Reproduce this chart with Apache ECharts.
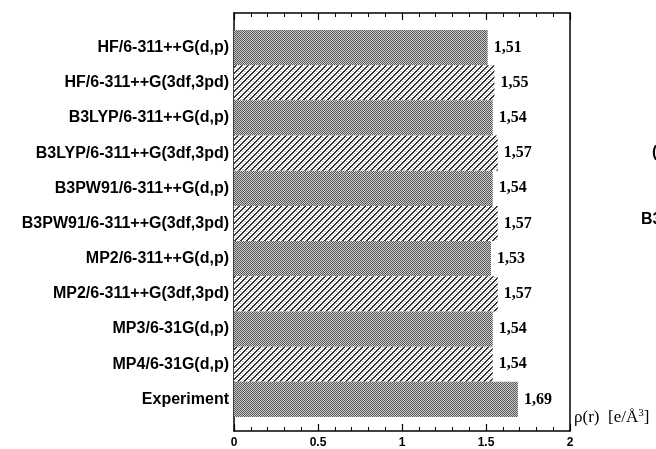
<!DOCTYPE html>
<html>
<head>
<meta charset="utf-8">
<script src="https://cdn.jsdelivr.net/npm/echarts@6/dist/echarts.min.js"></script>
<style>
html,body{margin:0;padding:0;background:#fff;}
#c{width:656px;height:449px;}
</style>
</head>
<body>
<div id="c"></div>
<script>
const categories = [
  'HF/6-311++G(d,p)',
  'HF/6-311++G(3df,3pd)',
  'B3LYP/6-311++G(d,p)',
  'B3LYP/6-311++G(3df,3pd)',
  'B3PW91/6-311++G(d,p)',
  'B3PW91/6-311++G(3df,3pd)',
  'MP2/6-311++G(d,p)',
  'MP2/6-311++G(3df,3pd)',
  'MP3/6-31G(d,p)',
  'MP4/6-31G(d,p)',
  'Experiment'
];
const values = [1.51, 1.55, 1.54, 1.57, 1.54, 1.57, 1.53, 1.57, 1.54, 1.54, 1.69];
const xTicks = [0, 0.5, 1, 1.5, 2];

function makeChecker() {
  const n = 4;
  const c = document.createElement('canvas');
  c.width = n; c.height = n;
  const ctx = c.getContext('2d');
  const img = ctx.createImageData(n, n);
  for (let y = 0; y < n; y++) for (let x = 0; x < n; x++) {
    const i = (y * n + x) * 4;
    const dark = (x + y) % 2 === 0;
    const v = dark ? 85 : 205;
    img.data[i] = img.data[i+1] = img.data[i+2] = v; img.data[i+3] = 255;
  }
  ctx.putImageData(img, 0, 0);
  return c;
}
function makeHatch() {
  const n = 6;
  const c = document.createElement('canvas');
  c.width = n * 2; c.height = n * 2;
  const ctx = c.getContext('2d');
  const img = ctx.createImageData(n * 2, n * 2);
  for (let y = 0; y < n * 2; y++) for (let x = 0; x < n * 2; x++) {
    const i = (y * n * 2 + x) * 4;
    const k = (x + y) % n;
    let v = 255;
    if (k === 0 || k === 1) v = 50;
    else if (k === 3 && (x % 2 === 0)) v = 190;
    else if (k === 4 && (x % 2 === 1)) v = 215;
    img.data[i] = img.data[i+1] = img.data[i+2] = v; img.data[i+3] = 255;
  }
  ctx.putImageData(img, 0, 0);
  return c;
}
const checker = { image: makeChecker(), repeat: 'repeat' };
const hatch = { image: makeHatch(), repeat: 'repeat' };

const chart = echarts.init(document.getElementById('c'), null, { renderer: 'canvas' });
const frameAxisX = {
  type: 'value', min: xTicks[0], max: xTicks[xTicks.length - 1], interval: 0.5,
  splitLine: { show: false },
  axisLine: { show: true, onZero: false, lineStyle: { color: '#000', width: 1.5 } },
  axisTick: { show: true, inside: true, length: 7, lineStyle: { color: '#000', width: 1.2 } },
  minorTick: { show: true, splitNumber: 5, length: 4, lineStyle: { color: '#000', width: 1 } },
  minorSplitLine: { show: false }
};
const frameAxisY = {
  type: 'value', gridIndex: 0, min: 0, max: 1, splitLine: { show: false },
  axisLine: { show: true, onZero: false, lineStyle: { color: '#000', width: 1.5 } },
  axisTick: { show: false }, axisLabel: { show: false }
};
chart.setOption({
  animation: false,
  backgroundColor: '#fff',
  grid: [
    { left: 234, top: 13, width: 336, height: 420 },
    { left: 234, top: 30, width: 336, height: 387 }
  ],
  xAxis: [
    Object.assign({}, frameAxisX, {
      gridIndex: 0, position: 'bottom',
      axisLabel: { show: true, margin: 6, color: '#000', fontFamily: 'Liberation Sans', fontWeight: 'bold', fontSize: 12,
        formatter: v => String(v) }
    }),
    Object.assign({}, frameAxisX, { gridIndex: 0, position: 'top', axisLabel: { show: false } }),
    { type: 'value', gridIndex: 1, min: xTicks[0], max: xTicks[xTicks.length - 1], show: false }
  ],
  yAxis: [
    Object.assign({}, frameAxisY, { position: 'left' }),
    Object.assign({}, frameAxisY, { position: 'right' }),
    { type: 'category', gridIndex: 1, data: categories, inverse: true,
      axisLine: { show: false }, axisTick: { show: false },
      axisLabel: { margin: 5, color: '#000', fontFamily: 'Liberation Sans', fontWeight: 'bold', fontSize: 16 } }
  ],
  series: [{
    type: 'bar', xAxisIndex: 2, yAxisIndex: 2,
    barCategoryGap: '0%',
    data: values.map((v, i) => ({ value: v, itemStyle: { color: i % 2 === 0 ? checker : hatch } })),
    label: {
      show: true, position: 'right', distance: 6, color: '#000',
      fontFamily: 'Liberation Serif', fontWeight: 'bold', fontSize: 16,
      formatter: p => p.value.toFixed(2).replace('.', ',')
    }
  }],
  graphic: [
    { type: 'text', left: 574, top: 408, style: {
      text: '{a|ρ(r)  [e/Å}{s|3}{a|]}',
      rich: {
        a: { fontFamily: 'Liberation Serif', fontSize: 17, fill: '#000' },
        s: { fontFamily: 'Liberation Serif', fontSize: 11, fill: '#000', verticalAlign: 'top', padding: [0, 0, 8, 0] }
      } } },
    { type: 'text', left: 641, top: 212, style: { text: 'B3LYP', fontFamily: 'Liberation Sans', fontWeight: 'bold', fontSize: 16, fill: '#000' } },
    { type: 'text', left: 652, top: 145, style: { text: '(', fontFamily: 'Liberation Sans', fontWeight: 'bold', fontSize: 16, fill: '#000' } }
  ]
});
</script>
</body>
</html>
